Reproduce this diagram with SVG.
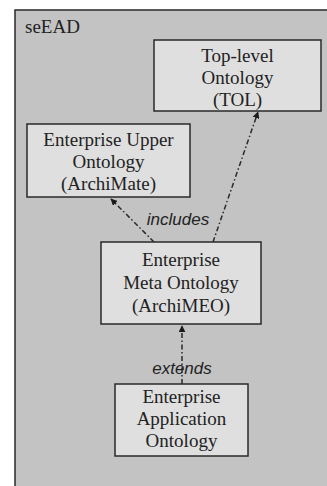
<svg xmlns="http://www.w3.org/2000/svg" width="327" height="486" viewBox="0 0 327 486">
<defs>
<style>
.frame{fill:#c3c3c3;stroke:#2a2a2a;stroke-width:1.5}
.box{fill:#dfdfdf;stroke:#2a2a2a;stroke-width:1.5}
.t{font-family:"Liberation Serif",serif;font-size:19px;fill:#222;text-anchor:middle}
.lbl{font-family:"Liberation Sans",sans-serif;font-size:17px;font-style:italic;fill:#222;text-anchor:middle}
.edge{stroke:#2a2a2a;stroke-width:1.5;fill:none;stroke-dasharray:5 2.5 1.5 2.5;marker-end:url(#ah)}
</style>
<marker id="ah" viewBox="0 0 10 10" refX="9" refY="5" markerWidth="7" markerHeight="7" markerUnits="userSpaceOnUse" orient="auto">
<path d="M0,0 L10,5 L0,10 z" fill="#1a1a1a"/>
</marker>
</defs>
<rect width="327" height="486" fill="#ffffff"/>
<g id="container">
<rect class="frame" x="15" y="10" width="330" height="490"/>
<text x="25" y="33" style="font-family:'Liberation Serif',serif;font-size:19px;fill:#222">seEAD</text>
</g>
<g id="connectors">
<line class="edge" x1="213" y1="242" x2="258" y2="112"/>
<line class="edge" x1="154" y1="242" x2="111" y2="199"/>
<line class="edge" x1="182" y1="384" x2="182" y2="326"/>
<text class="lbl" x="178" y="225">includes</text>
<text class="lbl" x="182" y="374">extends</text>
</g>
<g id="tol">
<rect class="box" x="154" y="40" width="167" height="71"/>
<text class="t" x="237.5" y="62">Top-level</text>
<text class="t" x="237.5" y="84">Ontology</text>
<text class="t" x="237.5" y="106">(TOL)</text>
</g>
<g id="euo">
<rect class="box" x="27" y="124" width="163" height="73"/>
<text class="t" x="108.5" y="146">Enterprise Upper</text>
<text class="t" x="108.5" y="168">Ontology</text>
<text class="t" x="108.5" y="190">(ArchiMate)</text>
</g>
<g id="archimeo">
<rect class="box" x="101" y="242" width="160" height="82"/>
<text class="t" x="181" y="266">Enterprise</text>
<text class="t" x="181" y="289">Meta Ontology</text>
<text class="t" x="181" y="312">(ArchiMEO)</text>
</g>
<g id="eao">
<rect class="box" x="115" y="384" width="133" height="72"/>
<text class="t" x="181.5" y="403">Enterprise</text>
<text class="t" x="181.5" y="425">Application</text>
<text class="t" x="181.5" y="447">Ontology</text>
</g>
</svg>
